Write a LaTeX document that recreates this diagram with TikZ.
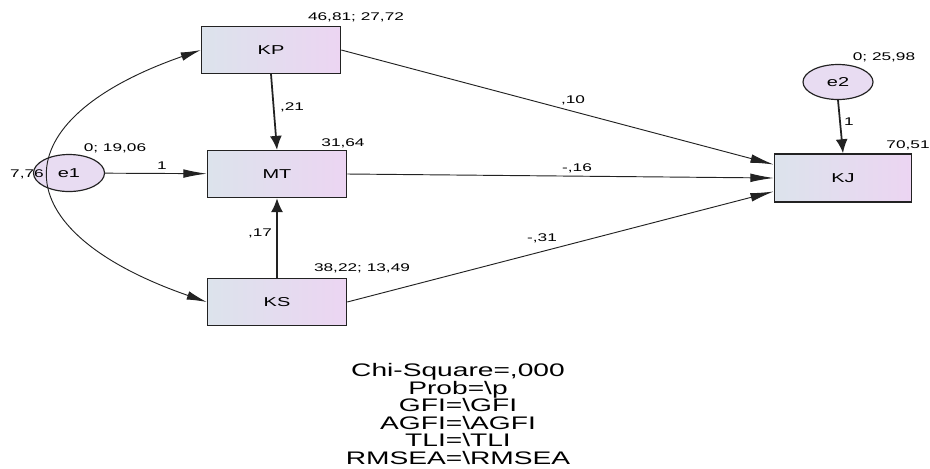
\documentclass[tikz,border=0pt]{standalone}
\usepackage{fontspec}
\setmainfont[FakeStretch=1.55]{Liberation Sans}
\usetikzlibrary{arrows.meta,shapes.geometric}
\definecolor{boxl}{HTML}{DCE3EC}
\definecolor{boxr}{HTML}{ECD5F2}
\definecolor{errf}{HTML}{E8DCF2}
\definecolor{edgec}{HTML}{222222}
\tikzset{
  var/.style={draw=edgec,line width=1.3pt,shade,left color=boxl,right color=boxr,
    minimum width=4.17cm,minimum height=1.4cm,font=\fontsize{11}{13}\selectfont},
  err/.style={ellipse,draw=edgec,line width=1pt,fill=errf,inner sep=0pt,
    font=\fontsize{11}{13}\selectfont},
  ar/.style={-{Latex[length=7mm,width=2.6mm]},line width=0.8pt,edgec},
  arb/.style={-{Latex[length=4.2mm,width=3.6mm]},line width=1.5pt,edgec},
  lab/.style={font=\fontsize{9.5}{11}\selectfont,inner sep=0pt}
}
\begin{document}
\begin{tikzpicture}[x=0.03cm,y=-0.03cm]
\useasboundingbox (0,0) rectangle (930,468);
% observed variables
\node[var] (KP) at (271,50) {KP};
\node[var] (MT) at (277,174) {MT};
\node[var] (KS) at (277,302) {KS};
\node[var,minimum width=4.11cm,minimum height=1.44cm] (KJ) at (843,178) {KJ};
% errors
\node[err,minimum width=2.13cm,minimum height=1.11cm] (e1) at (69,173) {e1};
\node[err,minimum width=2.1cm,minimum height=1.05cm] (e2) at (838,82) {e2};
\node[lab] (v1) at (27,174) {7,76};
% paths
\draw[ar] (e1) -- (MT);
\draw[arb] (KP.south) -- (MT.north);
\draw[arb] (KS.north) -- (MT.south);
\draw[arb] (e2.south) -- (KJ.north);
\draw[ar] (KP.east) -- (KJ.169);
\draw[ar] (MT.east) -- (KJ.west);
\draw[ar] (KS.east) -- (KJ.191);
\draw[{Latex[length=6mm,width=2.6mm]}-{Latex[length=6mm,width=2.6mm]},line width=0.8pt,edgec]
  (KS.west) .. controls (0,230) and (0,120) .. (KP.west);
% estimates
\node[lab] (mKP) at (356,17) {46,81; 27,72};
\node[lab] (mMT) at (343,143) {31,64};
\node[lab] (mKS) at (362,268) {38,22; 13,49};
\node[lab] (mKJ) at (908,145) {70,51};
\node[lab] (me1) at (115,148) {0; 19,06};
\node[lab] (me2) at (884,57) {0; 25,98};
\node[lab] (w1) at (162,166) {1};
\node[lab] (w2) at (849,122) {1};
\node[lab] (b21) at (292,107) {,21};
\node[lab] (b17) at (260,233) {,17};
\node[lab] (b10) at (573,100) {,10};
\node[lab] (b16) at (577,168) {-,16};
\node[lab] (b31) at (542,238) {-,31};
% fit
\node[align=center,inner sep=0pt,font=\fontsize{15.5}{15}\selectfont] (fit) at (458,414)
  {Chi-Square=,000\\Prob=\textbackslash p\\GFI=\textbackslash GFI\\AGFI=\textbackslash AGFI\\TLI=\textbackslash TLI\\RMSEA=\textbackslash RMSEA};
\end{tikzpicture}
\end{document}
